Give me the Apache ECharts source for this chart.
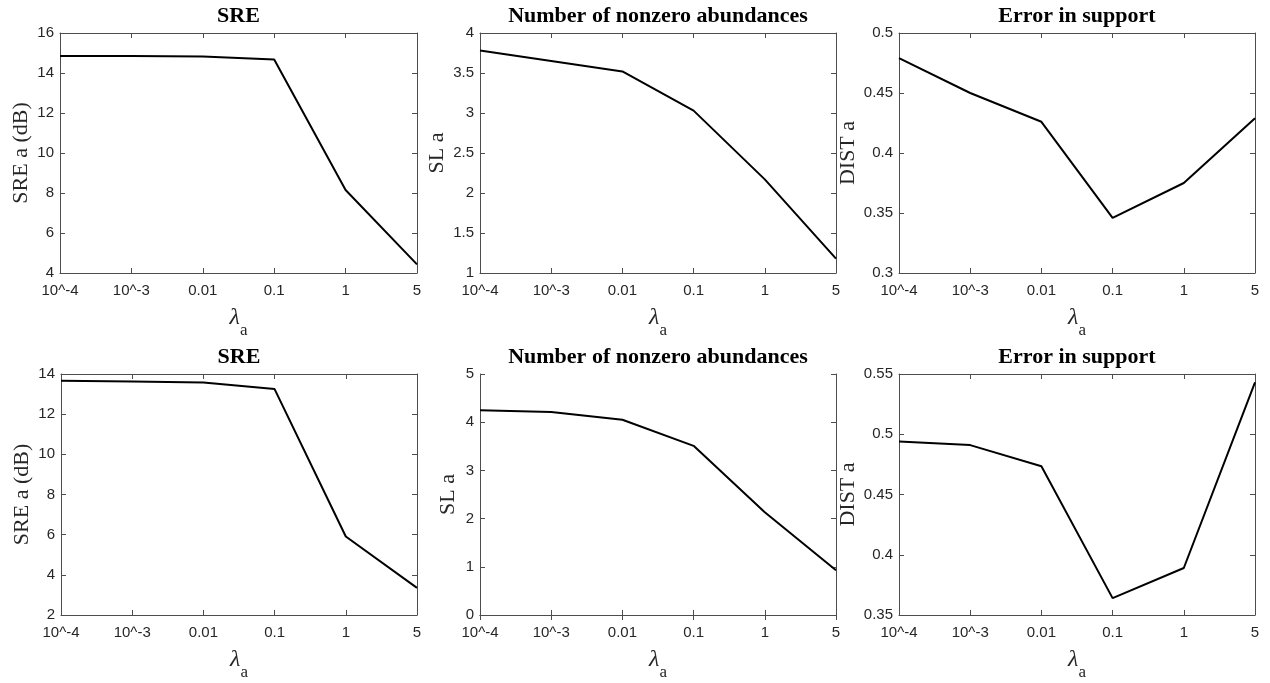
<!DOCTYPE html>
<html>
<head>
<meta charset="utf-8">
<title>lambda_a sweep</title>
<script src="https://cdn.jsdelivr.net/npm/echarts@6/dist/echarts.min.js"></script>
<style>
    html, body { margin: 0; padding: 0; background: #fff; }
    #main { width: 1270px; height: 683px; }
</style>
</head>
<body>
<div id="main"></div>
<script>
    // x categories (regularisation parameter)
    const lambdaLabels = ['10^-4', '10^-3', '0.01', '0.1', '1', '5']

    // top row
    const sreTop = [14.85, 14.85, 14.83, 14.68, 8.15, 4.43]
    const slTop = [3.78, 3.65, 3.52, 3.03, 2.17, 1.18]
    const distTop = [0.479, 0.450, 0.426, 0.346, 0.375, 0.429]

    // bottom row
    const sreBottom = [13.67, 13.63, 13.58, 13.25, 5.91, 3.35]
    const slBottom = [4.25, 4.21, 4.05, 3.51, 2.13, 0.93]
    const distBottom = [0.494, 0.491, 0.4735, 0.364, 0.389, 0.543]

    const panelTitles = ['SRE', 'Number of nonzero abundances', 'Error in support']
    const yNames = ['SRE a (dB)', 'SL a', 'DIST a']

    const axisGray = '#4d4d4d'
    const textGray = '#262626'
    const sansFont = '"Liberation Sans", Arial, sans-serif'
    const serifFont = '"Liberation Serif", "Times New Roman", serif'

    // panel layout (px)
    const panels = [
        { grid: { left: 60, top: 33, width: 357, height: 240 }, data: sreTop, title: 0, min: 4, max: 16, interval: 2, nameGap: 28 },
        { grid: { left: 480, top: 33, width: 356, height: 240 }, data: slTop, title: 1, min: 1, max: 4, interval: 0.5, nameGap: 32 },
        { grid: { left: 899, top: 33, width: 356, height: 240 }, data: distTop, title: 2, min: 0.3, max: 0.5, interval: 0.05, nameGap: 40 },
        { grid: { left: 61, top: 374, width: 356, height: 241 }, data: sreBottom, title: 0, min: 2, max: 14, interval: 2, nameGap: 28 },
        { grid: { left: 480, top: 374, width: 356, height: 241 }, data: slBottom, title: 1, min: 0, max: 5, interval: 1, nameGap: 21 },
        { grid: { left: 899, top: 374, width: 356, height: 241 }, data: distBottom, title: 2, min: 0.35, max: 0.55, interval: 0.05, nameGap: 40 }
    ]

    const grids = []
    const titles = []
    const xAxes = []
    const yAxes = []
    const series = []

    for (let i = 0; i < panels.length; i++) {
        const p = panels[i]
        grids.push(p.grid)
        titles.push({
            text: panelTitles[p.title],
            left: p.grid.left + p.grid.width / 2,
            top: p.grid.top - 28,
            textAlign: 'center',
            padding: 0,
            textStyle: { fontFamily: serifFont, fontWeight: 'bold', fontSize: 22, color: '#000' }
        })
        // bottom axis with labels and lambda name
        xAxes.push({
            type: 'category',
            gridIndex: i,
            data: lambdaLabels,
            boundaryGap: false,
            position: 'bottom',
            axisLine: { lineStyle: { color: axisGray, width: 1 } },
            axisTick: { inside: true, length: 5, lineStyle: { color: axisGray } },
            axisLabel: { color: textGray, fontFamily: sansFont, fontSize: 15, margin: 10 },
            splitLine: { show: false },
            name: '{l|λ}{s|a}',
            nameLocation: 'middle',
            nameGap: 23,
            nameTextStyle: {
                rich: {
                    l: { fontFamily: serifFont, fontStyle: 'italic', fontSize: 24, color: textGray },
                    s: { fontFamily: serifFont, fontSize: 17, color: textGray, padding: [26, 0, 0, 0] }
                }
            }
        })
        // top axis: box edge + inward ticks only
        xAxes.push({
            type: 'category',
            gridIndex: i,
            data: lambdaLabels,
            boundaryGap: false,
            position: 'top',
            axisLine: { lineStyle: { color: axisGray, width: 1 } },
            axisTick: { inside: true, length: 5, lineStyle: { color: axisGray } },
            axisLabel: { show: false },
            splitLine: { show: false }
        })
        yAxes.push({
            type: 'value',
            gridIndex: i,
            position: 'left',
            min: p.min,
            max: p.max,
            interval: p.interval,
            axisLine: { show: true, lineStyle: { color: axisGray, width: 1 } },
            axisTick: { show: true, inside: true, length: 5, lineStyle: { color: axisGray } },
            axisLabel: { color: textGray, fontFamily: sansFont, fontSize: 15, margin: 6 },
            splitLine: { show: false },
            name: yNames[p.title],
            nameLocation: 'middle',
            nameGap: p.nameGap,
            nameTextStyle: { fontFamily: serifFont, fontSize: 22, color: textGray }
        })
        yAxes.push({
            type: 'value',
            gridIndex: i,
            position: 'right',
            min: p.min,
            max: p.max,
            interval: p.interval,
            axisLine: { show: true, lineStyle: { color: axisGray, width: 1 } },
            axisTick: { show: true, inside: true, length: 5, lineStyle: { color: axisGray } },
            axisLabel: { show: false },
            splitLine: { show: false }
        })
        series.push({
            type: 'line',
            xAxisIndex: i * 2,
            yAxisIndex: i * 2,
            data: p.data,
            symbol: 'none',
            lineStyle: { color: '#000', width: 2 },
            animation: false
        })
    }

    const chart = echarts.init(document.getElementById('main'))
    chart.setOption({
        animation: false,
        backgroundColor: '#fff',
        title: titles,
        grid: grids,
        xAxis: xAxes,
        yAxis: yAxes,
        series: series
    })
</script>
</body>
</html>
